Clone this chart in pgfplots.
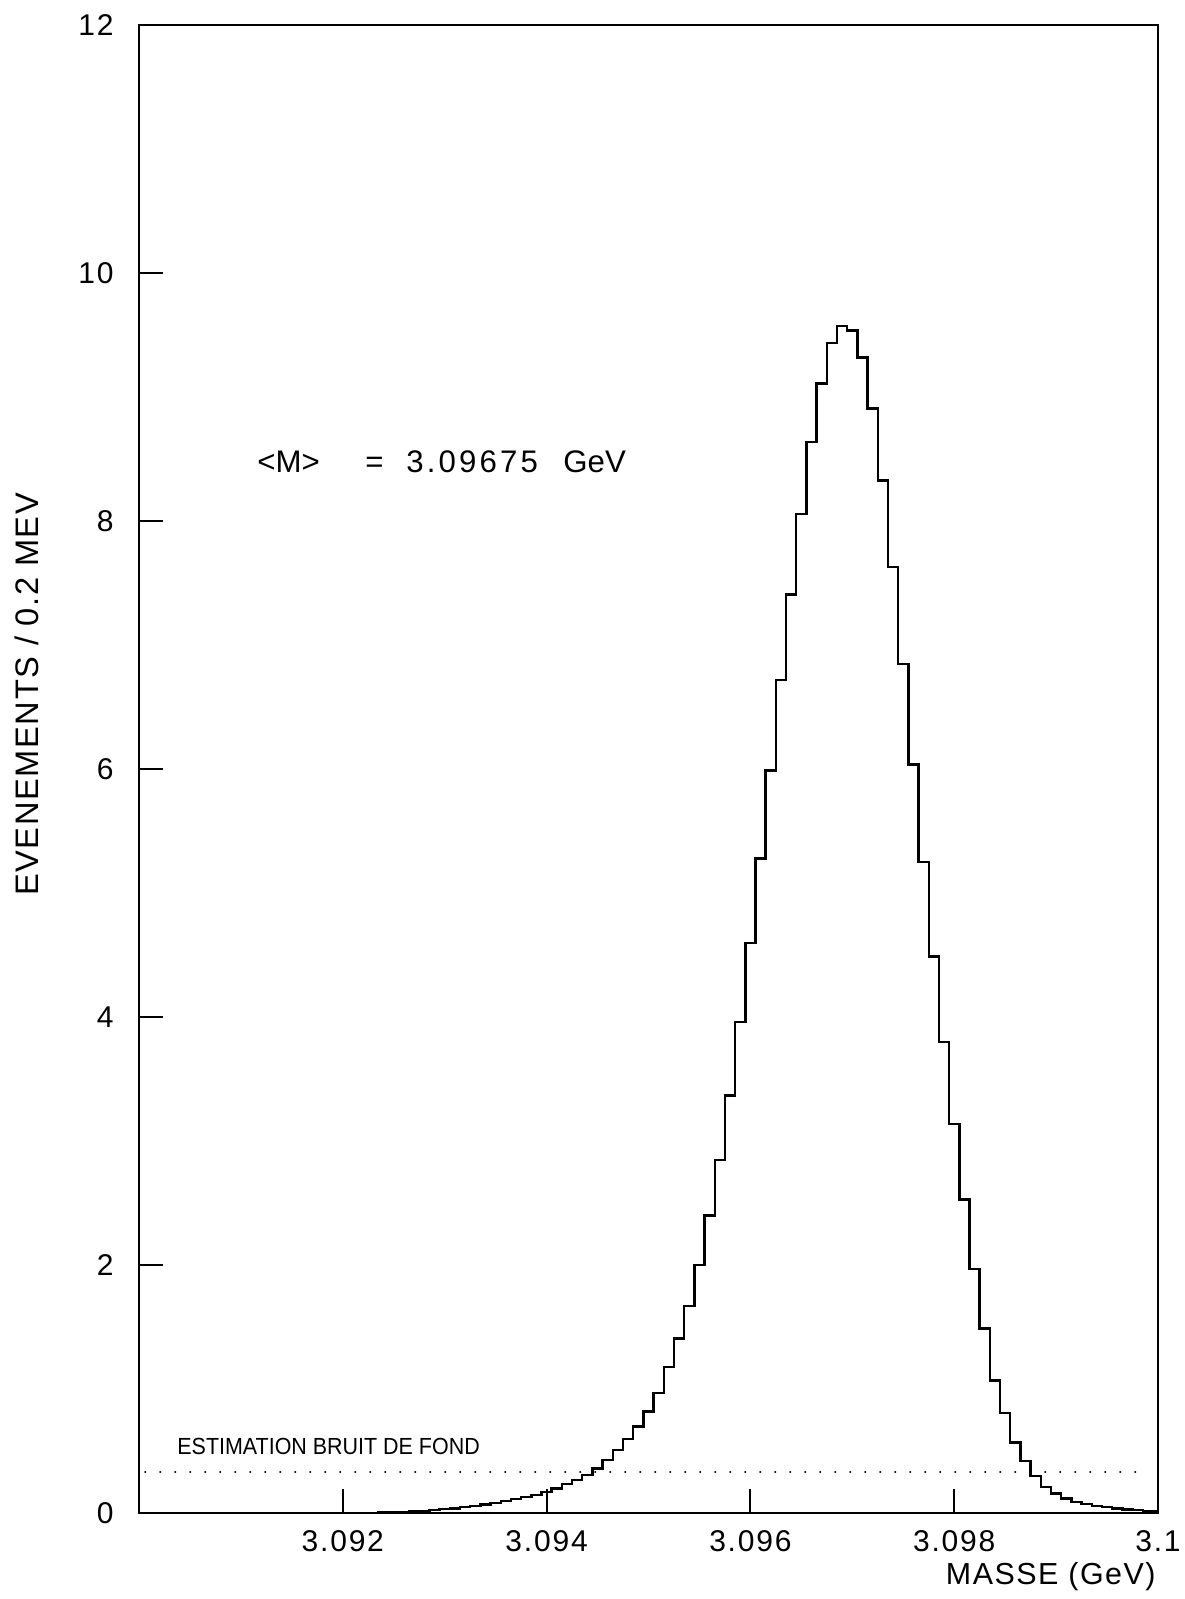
\documentclass[border=0pt]{standalone}
\usepackage{fontspec}
\setmainfont{Liberation Sans}
\newfontfamily\ticksfont{Liberation Sans}[LetterSpace=6]
\newfontfamily\wideFont{Liberation Sans}[LetterSpace=10]
\newfontfamily\labfont{Liberation Sans}[LetterSpace=5]
\newfontfamily\narrowfont{Liberation Sans}[FakeStretch=0.92]
\usepackage{pgfplots}
\usepackage{pgfplotstable}
\pgfplotsset{compat=1.18}

% x = left bin edge in MeV above 3.090 GeV, y = events / bin
\pgfplotstableread{
x y
0 0
2.05 0.001
2.15 0.002
2.25 0.003
2.35 0.005
2.45 0.008
2.55 0.011
2.65 0.015
2.75 0.02
2.85 0.026
2.95 0.033
3.05 0.04
3.15 0.05
3.25 0.06
3.35 0.07
3.45 0.085
3.55 0.10
3.65 0.115
3.75 0.13
3.85 0.15
3.95 0.17
4.05 0.20
4.15 0.235
4.25 0.27
4.35 0.31
4.45 0.36
4.55 0.43
4.65 0.51
4.75 0.60
4.85 0.70
4.95 0.82
5.05 0.97
5.15 1.18
5.25 1.41
5.35 1.67
5.45 2.00
5.55 2.40
5.65 2.85
5.75 3.37
5.85 3.96
5.95 4.60
6.05 5.28
6.15 5.99
6.25 6.72
6.35 7.41
6.45 8.06
6.55 8.64
6.65 9.11
6.75 9.44
6.85 9.575
6.95 9.54
7.05 9.32
7.15 8.91
7.25 8.33
7.35 7.63
7.45 6.85
7.55 6.04
7.65 5.25
7.75 4.49
7.85 3.80
7.95 3.14
8.05 2.53
8.15 1.97
8.25 1.49
8.35 1.07
8.45 0.81
8.55 0.57
8.65 0.42
8.75 0.30
8.85 0.21
8.95 0.16
9.05 0.12
9.15 0.09
9.25 0.075
9.35 0.06
9.45 0.05
9.55 0.04
9.65 0.03
9.75 0.025
9.85 0.02
9.95 0.015
10.0 0.015
}\histdata

\begin{document}
\begin{tikzpicture}
\useasboundingbox (-69.5pt,-42.85pt) rectangle (522.5pt,756.65pt);
\begin{axis}[
  scale only axis,
  width=509.5pt, height=744pt,
  xmin=0, xmax=10, ymin=0, ymax=12,
  axis line style={line width=1.1pt, black},
  tick pos=left, tick align=inside,
  major tick length=12pt,
  tick style={line width=1pt, black},
  xtick={2,4,6,8,10},
  xticklabels={\mbox{3.092},\mbox{3.094},\mbox{3.096},\mbox{3.098},\mbox{3.1}},
  ytick={0,2,4,6,8,10,12},
  /pgf/number format/assume math mode=true,
  tick label style={font=\fontsize{15}{17}\selectfont\ticksfont, inner sep=0pt},
  xticklabel style={anchor=north, yshift=-8.35pt},
  yticklabel style={anchor=east, xshift=-12.5pt},
  xlabel={MASSE (GeV)},
  xlabel style={at={(rel axis cs:1,0)}, anchor=base east, yshift=-35.35pt, xshift=-1pt,
                font=\fontsize{15.2}{18}\selectfont\labfont, inner sep=0pt},
  ylabel={EVENEMENTS / 0.2 MEV},
  ylabel style={at={(rel axis cs:-0.0983,0.5503)}, anchor=base,
                font=\fontsize{16.3}{18}\selectfont\labfont, inner sep=0pt},
]
\addplot[const plot, black, line width=1.2pt] table[x=x, y=y] {\histdata};
\addplot[black, line width=1.1pt, line cap=round, dash pattern=on 0.1pt off 7.4pt]
  coordinates {(0.06,0.33) (9.92,0.33)};
\node[anchor=base west, inner sep=0pt, font=\fontsize{15.6}{18}\selectfont]
  at (axis cs:1.158,8.396) {<M>};
\node[anchor=base west, inner sep=0pt, font=\fontsize{15.6}{18}\selectfont]
  at (axis cs:2.218,8.396) {=};
\node[anchor=base west, inner sep=0pt, font=\fontsize{15.6}{18}\selectfont\wideFont]
  at (axis cs:2.62,8.396) {3.09675};
\node[anchor=base west, inner sep=0pt, font=\fontsize{15.6}{18}\selectfont]
  at (axis cs:4.161,8.396) {GeV};
\node[anchor=base west, inner sep=0pt, font=\fontsize{11.66}{14}\selectfont\narrowfont]
  at (axis cs:0.373,0.478) {ESTIMATION BRUIT DE FOND};
\end{axis}
\end{tikzpicture}
\end{document}
